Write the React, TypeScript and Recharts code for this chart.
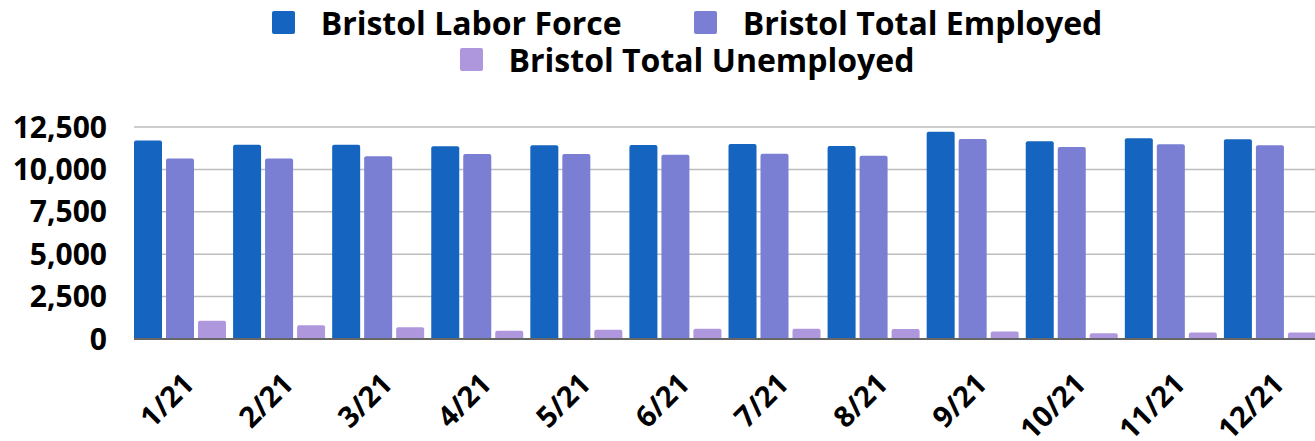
import React from 'react';
import {
  BarChart,
  Bar,
  XAxis,
  YAxis,
  CartesianGrid,
  Legend,
} from 'recharts';

const months = ['1/21', '2/21', '3/21', '4/21', '5/21', '6/21', '7/21', '8/21', '9/21', '10/21', '11/21', '12/21'];
const laborForce = [11700, 11460, 11460, 11360, 11420, 11440, 11500, 11380, 12220, 11660, 11830, 11780];
const totalEmployed = [10640, 10640, 10780, 10910, 10910, 10870, 10930, 10810, 11790, 11320, 11480, 11420];
const totalUnemployed = [1070, 810, 690, 480, 540, 600, 600, 590, 440, 340, 380, 380];
const yTicks = [0, 2500, 5000, 7500, 10000, 12500];

const seriesInfo = [
  { key: 'lf', name: 'Bristol Labor Force', color: '#1565c0' },
  { key: 'emp', name: 'Bristol Total Employed', color: '#7a7fd3' },
  { key: 'unemp', name: 'Bristol Total Unemployed', color: '#af97de' },
];

const data = months.map((m, i) => ({
  name: m,
  lf: laborForce[i],
  emp: totalEmployed[i],
  unemp: totalUnemployed[i],
}));

const FONT = '"Open Sans", "Noto Sans", sans-serif';

const MonthTick = ({ x, y, payload }: any) => (
  <g transform={`translate(${x},${y})`}>
    <text
      x={-16}
      y={39}
      textAnchor="end"
      transform="rotate(-45)"
      fontFamily={FONT}
      fontWeight={700}
      fontSize={29}
      fill="#000"
    >
      {payload.value}
    </text>
  </g>
);

const LegendRows = () => (
  <div
    style={{
      marginLeft: 227,
      width: 920,
      display: 'flex',
      flexWrap: 'wrap',
      justifyContent: 'center',
      fontFamily: FONT,
      fontWeight: 700,
      fontSize: 32,
      lineHeight: '37px',
      color: '#000',
      paddingTop: 4,
    }}
  >
    {seriesInfo.map((s) => (
      <div key={s.key} style={{ display: 'flex', alignItems: 'center', margin: '0 36px' }}>
        <span
          style={{
            display: 'inline-block',
            width: 23,
            height: 23,
            background: s.color,
            borderRadius: 2,
            marginRight: 26,
          }}
        />
        <span>{s.name}</span>
      </div>
    ))}
  </div>
);

const App = () => {
  return (
    <div style={{ position: 'absolute', left: 0, top: 0, width: 1315, height: 441, overflow: 'hidden', background: '#fff' }}>
      <BarChart
        width={1315}
        height={441}
        data={data}
        margin={{ top: 127, right: 0, left: 0, bottom: 0 }}
        barCategoryGap={4}
        barGap={4}
      >
        <CartesianGrid vertical={false} stroke="#bdbdbd" strokeWidth={1.5} />
        <XAxis
          dataKey="name"
          height={102}
          padding={{ left: -4, right: -4 }}
          tickLine={false}
          axisLine={{ stroke: '#666', strokeWidth: 2 }}
          interval={0}
          tick={<MonthTick />}
        />
        <YAxis
          width={134}
          domain={[0, 12500]}
          ticks={yTicks}
          axisLine={false}
          tickLine={false}
          tickSize={0}
          tickMargin={27}
          tickFormatter={(v: number) => v.toLocaleString('en-US')}
          tick={{ fontFamily: FONT, fontWeight: 700, fontSize: 30, fill: '#000' }}
        />
        <Legend
          layout="horizontal"
          verticalAlign="middle"
          align="center"
          wrapperStyle={{ top: 0, left: 0, width: 1315 }}
          content={<LegendRows />}
        />
        {seriesInfo.map((s) => (
          <Bar
            key={s.key}
            dataKey={s.key}
            name={s.name}
            fill={s.color}
            radius={[2, 2, 0, 0]}
            isAnimationActive={false}
          />
        ))}
      </BarChart>
    </div>
  );
};

export default App;
